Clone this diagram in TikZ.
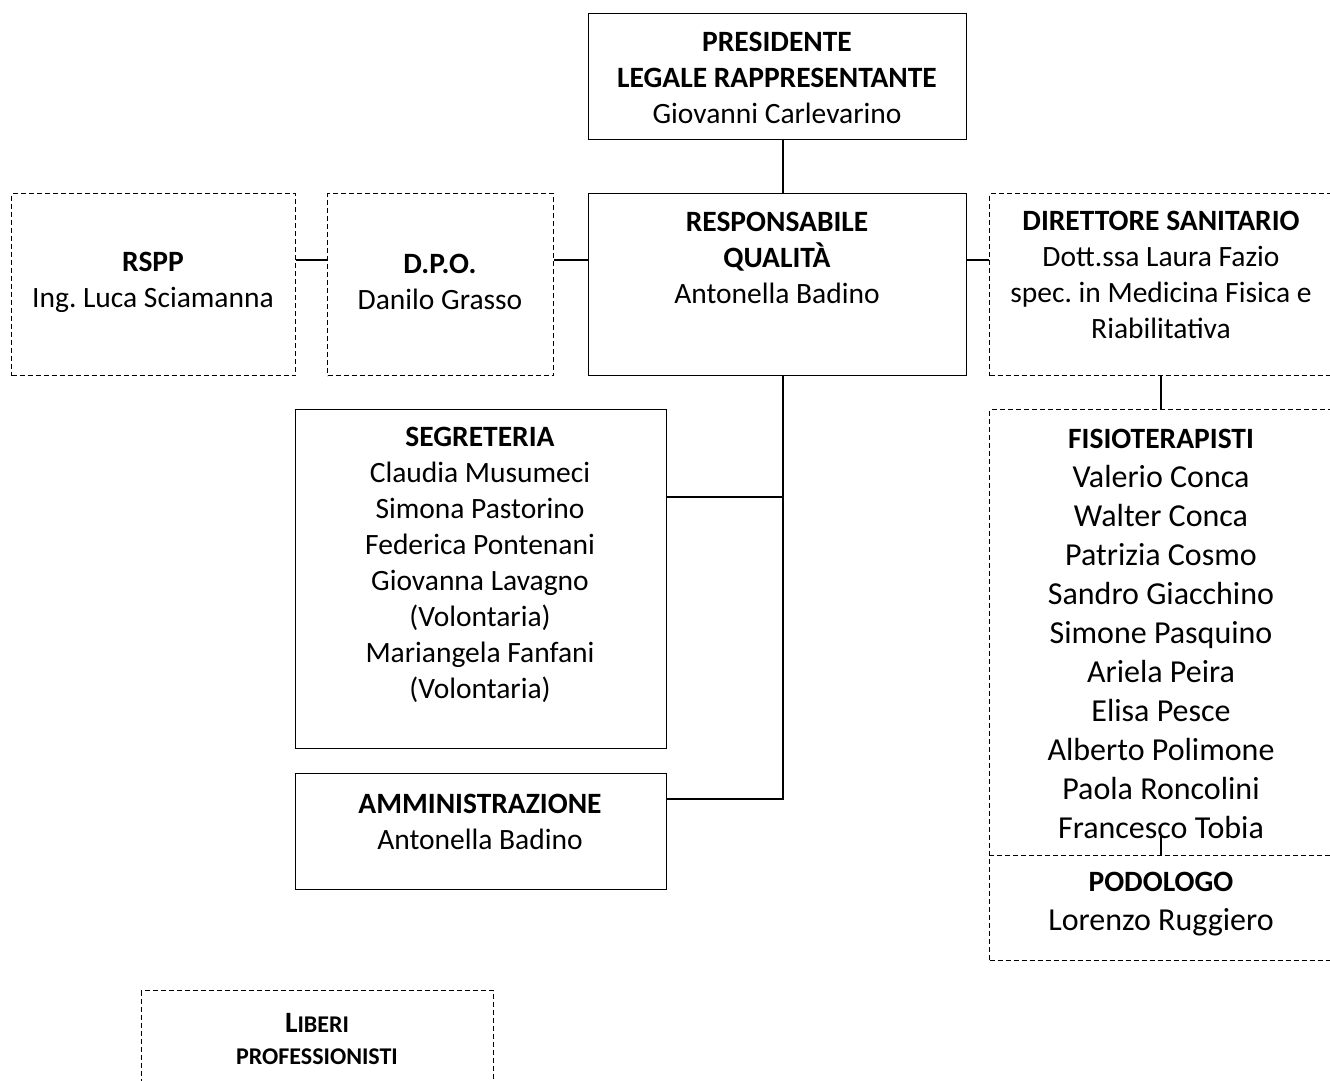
\documentclass[tikz,border=0pt]{standalone}
\usepackage{fontspec}
\setmainfont{Carlito}
\frenchspacing
\begin{document}
\begin{tikzpicture}[x=1pt,y=-1pt,
  solidbox/.style={draw, line width=1.3pt, inner sep=0pt, anchor=north west},
  dashbox/.style={draw, line width=1pt, dash pattern=on 5pt off 3pt, inner sep=0pt, anchor=north west},
  areabox/.style={inner sep=0pt, anchor=north west},
  sepline/.style={line width=1pt, dash pattern=on 5pt off 3pt},
  conn/.style={line width=1.3pt},
  txt/.style={align=center, font=\fontsize{29.5}{36}\selectfont, inner sep=0pt},
  bigtxt/.style={align=center, font=\fontsize{32}{39}\selectfont, inner sep=0pt}]
\useasboundingbox (0,0) rectangle (1330,1081);
% boxes
\node[solidbox, minimum width=378pt, minimum height=126pt] (pres) at (588,13) {};
\node[solidbox, minimum width=378pt, minimum height=182pt] (resp) at (588,193) {};
\node[dashbox, minimum width=284pt, minimum height=182pt] (rspp) at (11,193) {};
\node[dashbox, minimum width=226pt, minimum height=182pt] (dpo) at (327,193) {};
\node[dashbox, minimum width=360pt, minimum height=182pt] (dir) at (989,193) {};
\node[dashbox, minimum width=360pt, minimum height=551pt] (fisio) at (989,409) {};
\node[areabox, minimum width=360pt, minimum height=105pt] (podo) at (989,855) {};
\node[solidbox, minimum width=371pt, minimum height=339pt] (seg) at (295,409) {};
\node[solidbox, minimum width=371pt, minimum height=116pt] (amm) at (295,773) {};
\node[dashbox, minimum width=352pt, minimum height=120pt] (lib) at (141,990) {};
\draw[sepline] (podo.north west) -- (podo.north east);
% texts
\node[txt] (tpres) at (777,78) {\textbf{PRESIDENTE}\\\textbf{LEGALE RAPPRESENTANTE}\\Giovanni Carlevarino};
\node[txt] (tresp) at (777,258) {\textbf{RESPONSABILE}\\\textbf{QUALITÀ}\\Antonella Badino};
\node[txt] (trspp) at (153,282) {\textbf{RSPP}\\Ing. Luca Sciamanna};
\node[txt] (tdpo) at (440,282) {\textbf{D.P.O.}\\Danilo Grasso};
\node[txt] (tdir) at (1161,275) {\textbf{DIRETTORE SANITARIO}\\Dott.ssa Laura Fazio\\spec. in Medicina Fisica e\\Riabilitativa};
\node[bigtxt] (tfisio) at (1161,634) {{\fontsize{29.5}{39}\selectfont\textbf{FISIOTERAPISTI}}\\Valerio Conca\\Walter Conca\\Patrizia Cosmo\\Sandro Giacchino\\Simone Pasquino\\Ariela Peira\\Elisa Pesce\\Alberto Polimone\\Paola Roncolini\\Francesco Tobia};
\node[bigtxt] (tpodo) at (1161,904) {{\fontsize{29.5}{39}\selectfont\textbf{PODOLOGO}}\\Lorenzo Ruggiero};
\node[txt] (tseg) at (480,565) {\textbf{SEGRETERIA}\\Claudia Musumeci\\Simona Pastorino\\Federica Pontenani\\Giovanna Lavagno\\(Volontaria)\\Mariangela Fanfani\\(Volontaria)};
\node[txt] (tamm) at (480,822) {\textbf{AMMINISTRAZIONE}\\Antonella Badino};
\node[align=center, inner sep=0pt, font=\bfseries\fontsize{29.5}{32}\selectfont] (tlib) at (317,1039) {L{\fontsize{24}{32}\selectfont IBERI}\\{\fontsize{24}{32}\selectfont PROFESSIONISTI}};
% helper coordinates
\coordinate (spine) at (783,0);
\coordinate (hline) at (0,260);
\coordinate (segY) at (0,497);
\coordinate (ammY) at (0,799);
\coordinate (rx) at (1161,0);
\coordinate (fend) at (1161,835);
% connectors
\draw[conn] (pres.south -| spine) -- (resp.north -| spine);
\draw[conn] (rspp.east |- hline) -- (dpo.west |- hline);
\draw[conn] (dpo.east |- hline) -- (resp.west |- hline);
\draw[conn] (resp.east |- hline) -- (dir.west |- hline);
\draw[conn] (resp.south -| spine) -- (spine |- ammY) -- (amm.east |- ammY);
\draw[conn] (seg.east |- segY) -- (spine |- segY);
\draw[conn] (dir.south -| rx) -- (fisio.north -| rx);
\draw[conn] (podo.north -| rx) -- (fend);
\end{tikzpicture}
\end{document}
